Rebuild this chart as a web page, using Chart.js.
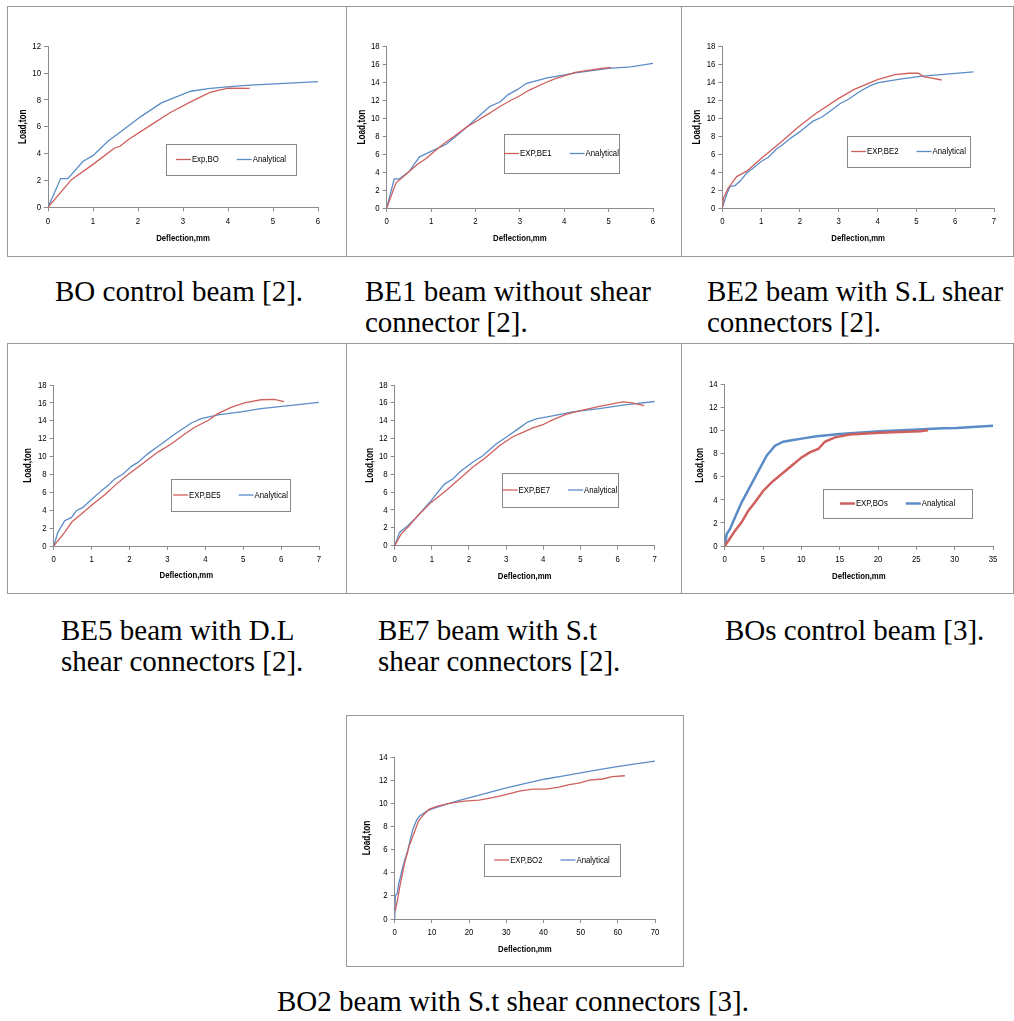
<!DOCTYPE html>
<html>
<head>
<meta charset="utf-8">
<script src="https://cdn.jsdelivr.net/npm/chart.js@4.4.0/dist/chart.umd.min.js"></script>
<style>
  body { margin: 0; background: #fff; width: 1014px; height: 1021px; position: relative; overflow: hidden; }
  .panel { position: absolute; border: 1px solid #999; box-sizing: border-box; }
  .panel canvas { position: absolute; left: 0; top: 0; }
  .cap { position: absolute; font-family: "Liberation Serif", "Times New Roman", serif; font-size: 29px; line-height: 31px; color: #000; white-space: nowrap; }
</style>
</head>
<body>

<div class="panel" id="p1" style="left:7px;top:6px;width:340px;height:251px"><canvas id="c1"></canvas></div>
<div class="panel" id="p2" style="left:346px;top:6px;width:336px;height:251px"><canvas id="c2"></canvas></div>
<div class="panel" id="p3" style="left:681px;top:6px;width:333px;height:251px"><canvas id="c3"></canvas></div>
<div class="panel" id="p4" style="left:7px;top:343px;width:340px;height:251px"><canvas id="c4"></canvas></div>
<div class="panel" id="p5" style="left:346px;top:343px;width:336px;height:251px"><canvas id="c5"></canvas></div>
<div class="panel" id="p6" style="left:681px;top:343px;width:333px;height:251px"><canvas id="c6"></canvas></div>
<div class="panel" id="p7" style="left:346px;top:715px;width:338px;height:252px"><canvas id="c7"></canvas></div>

<div class="cap" style="left:55px;top:276px">BO control beam [2].</div>
<div class="cap" style="left:365px;top:276px">BE1 beam without shear<br>connector [2].</div>
<div class="cap" style="left:707px;top:276px">BE2 beam with S.L shear<br>connectors [2].</div>
<div class="cap" style="left:61px;top:615px">BE5 beam with D.L<br>shear connectors [2].</div>
<div class="cap" style="left:378px;top:615px">BE7 beam with S.t<br>shear connectors [2].</div>
<div class="cap" style="left:725px;top:615px">BOs control beam [3].</div>
<div class="cap" style="left:277px;top:986px">BO2 beam with S.t shear connectors [3].</div>

<script>
// load (ton) vs deflection (mm) as [x, y]
var boExp = [[0,0],[0.52,2.06],[1.0,3.2],[1.48,4.42],[1.6,4.55],[1.78,5.04],[2.3,6.16],[2.7,7.03],[3.19,7.9],[3.6,8.57],[4.0,8.88],[4.48,8.87]];
var boAna = [[0,0],[0.19,1.44],[0.28,2.14],[0.44,2.14],[0.78,3.43],[1.0,3.85],[1.33,4.92],[1.6,5.6],[2.07,6.78],[2.52,7.78],[3.17,8.65],[3.56,8.85],[4.04,9.0],[4.5,9.1],[6,9.37]];

var be1Exp = [[0,0],[0.21,2.8],[0.47,3.9],[0.7,4.9],[0.89,5.5],[1.07,6.3],[1.3,7.2],[1.5,7.9],[1.8,9.0],[2.0,9.6],[2.3,10.5],[2.55,11.3],[2.8,12.0],[3.0,12.5],[3.2,13.1],[3.6,14.0],[3.8,14.4],[4.05,14.8],[4.25,15.1],[4.5,15.3],[4.8,15.5],[5.05,15.65]];
var be1Ana = [[0,0],[0.17,3.25],[0.29,3.25],[0.51,4.1],[0.74,5.7],[1.0,6.3],[1.34,7.1],[1.56,8.0],[1.8,9.0],[2.05,10.1],[2.32,11.3],[2.55,11.8],[2.73,12.6],[2.95,13.2],[3.14,13.85],[3.59,14.45],[4.04,14.85],[4.25,15.05],[5.0,15.55],[5.5,15.7],[6,16.1]];

var be2Exp = [[0,0],[0.03,1.1],[0.15,2.2],[0.37,3.5],[0.63,4.1],[1.0,5.5],[1.5,7.3],[1.95,9.0],[2.4,10.5],[3.0,12.2],[3.4,13.2],[4.0,14.3],[4.45,14.85],[4.8,15.0],[5.05,15.0],[5.2,14.6],[5.4,14.45],[5.65,14.25]];
var be2Ana = [[0,0],[0.11,1.5],[0.2,2.4],[0.33,2.5],[0.46,3.0],[0.63,3.9],[0.8,4.45],[1.01,5.2],[1.19,5.65],[1.4,6.6],[1.53,6.95],[1.74,7.7],[2.0,8.5],[2.17,9.1],[2.35,9.7],[2.56,10.1],[2.82,10.9],[3.03,11.6],[3.25,12.1],[3.55,13.0],[3.8,13.6],[4.02,13.95],[4.58,14.35],[5.09,14.65],[5.78,14.9],[6.47,15.15]];

var be5Exp = [[0,0],[0.29,1.53],[0.47,2.65],[0.73,3.58],[1.04,4.7],[1.34,5.7],[1.61,6.75],[1.87,7.68],[2.22,8.8],[2.48,9.65],[2.75,10.5],[3.1,11.4],[3.45,12.5],[3.71,13.25],[4.06,14.0],[4.33,14.8],[4.68,15.5],[5.03,16.0],[5.47,16.35],[5.82,16.4],[6.08,16.15]];
var be5Ana = [[0,0],[0.11,1.53],[0.29,2.83],[0.47,3.2],[0.6,3.95],[0.77,4.32],[1.04,5.37],[1.26,6.19],[1.43,6.75],[1.61,7.5],[1.83,8.05],[2.05,8.9],[2.22,9.35],[2.48,10.3],[2.84,11.4],[3.19,12.5],[3.63,13.75],[3.89,14.25],[4.33,14.65],[4.94,15.0],[5.47,15.35],[7,16.06]];

var be7Exp = [[0,0],[0.17,1.3],[0.39,2.24],[0.62,3.36],[0.98,4.85],[1.38,6.16],[1.74,7.47],[2.1,8.78],[2.46,9.9],[2.82,11.2],[3.18,12.2],[3.45,12.7],[3.72,13.2],[3.99,13.55],[4.25,14.1],[4.61,14.7],[4.97,15.1],[5.51,15.6],[6.14,16.1],[6.4,16.0],[6.72,15.7]];
var be7Ana = [[0,0],[0.13,1.49],[0.35,2.24],[0.57,3.1],[0.98,5.04],[1.34,6.9],[1.56,7.47],[1.79,8.4],[2.1,9.34],[2.37,10.08],[2.73,11.39],[3.0,12.14],[3.36,13.2],[3.58,13.85],[3.81,14.2],[4.25,14.55],[4.79,15.0],[5.51,15.35],[6.14,15.75],[7,16.15]];

var bosExp = [[0,0],[0.48,0.46],[1.35,1.33],[2.2,2.05],[3.08,3.07],[3.95,3.79],[5.04,4.8],[6.12,5.52],[7.43,6.25],[8.73,6.97],[10.03,7.69],[11.1,8.13],[12.2,8.42],[13.07,9.05],[14.37,9.43],[16.32,9.68],[20.23,9.82],[24.58,9.93],[25.5,9.95],[26.5,10.05]];
var bosAna = [[0,0],[0.26,1.04],[0.7,1.48],[1.35,2.49],[2.21,3.79],[3.73,5.67],[5.47,7.84],[6.56,8.71],[7.64,9.05],[8.94,9.2],[10.25,9.34],[11.98,9.52],[13.72,9.63],[15.02,9.72],[20.23,9.95],[24.58,10.1],[28.48,10.21],[30.2,10.24],[35,10.44]];

var bo2Exp = [[0.15,0.7],[0.8,1.73],[1.43,2.88],[2.6,4.75],[3.94,6.34],[5.28,7.49],[6.45,8.5],[7.97,9.08],[9.31,9.5],[11.55,9.75],[14.68,10.0],[18.7,10.18],[22.7,10.28],[26.3,10.48],[29.9,10.75],[33.5,11.05],[37.06,11.22],[40.6,11.22],[44.2,11.4],[46.9,11.62],[49.6,11.75],[52.3,12.0],[55.9,12.1],[58.5,12.3],[61.9,12.38]];
var bo2Ana = [[0,0],[0.18,2.02],[0.63,2.16],[1.07,3.02],[2.15,4.47],[3.49,5.9],[4.83,7.7],[5.9,8.56],[6.8,8.93],[8.86,9.36],[10.65,9.59],[13.8,9.9],[16.9,10.2],[20.95,10.55],[24.5,10.85],[29,11.25],[33.5,11.6],[37,11.85],[40.6,12.1],[45.1,12.35],[49.6,12.6],[55,12.9],[59.4,13.15],[64.8,13.4],[70,13.65]];

var RED = "#CF5F5C", BLUE = "#5B8CC8", AXIS = "#8c8c8c";
var FONT = "'Liberation Sans', Arial, sans-serif";
var SQUEEZE = 0.82; // the originals use a narrow face; squeeze Arial-metric text to match

Chart.defaults.font.family = FONT;
Chart.defaults.font.size = 9.5;
Chart.defaults.color = "#000";

// every canvas text call is drawn horizontally condensed
function condense(ctx, k) {
  var fill = ctx.fillText.bind(ctx);
  var measure = ctx.measureText.bind(ctx);
  ctx.fillText = function (t, x, y) {
    ctx.save();
    ctx.translate(x, y);
    ctx.scale(k, 1);
    fill(t, 0, 0);
    ctx.restore();
  };
  ctx.measureText = function (t) {
    var m = measure(t);
    return {
      width: m.width * k,
      actualBoundingBoxAscent: m.actualBoundingBoxAscent,
      actualBoundingBoxDescent: m.actualBoundingBoxDescent,
      actualBoundingBoxLeft: m.actualBoundingBoxLeft * k,
      actualBoundingBoxRight: m.actualBoundingBoxRight * k
    };
  };
}

// legend drawn as a boxed inset, like the Excel originals
var boxLegend = {
  id: "boxLegend",
  afterDatasetsDraw: function (chart, args, opts) {
    var r = opts.rect;
    if (!r) return;
    var ctx = chart.ctx;
    ctx.save();
    ctx.fillStyle = "#fff";
    ctx.fillRect(r.x, r.y, r.w, r.h);
    ctx.strokeStyle = "#888";
    ctx.lineWidth = 1;
    ctx.strokeRect(Math.round(r.x) + 0.5, Math.round(r.y) + 0.5, r.w, r.h);
    ctx.font = "9.5px " + FONT;
    var sets = chart.data.datasets;
    var total = 0;
    sets.forEach(function (ds, i) {
      total += 15 + 1 + ctx.measureText(ds.label).width + (i ? opts.gap : 0);
    });
    var x = r.x + (r.w - total) / 2;
    var y = r.y + r.h / 2;
    ctx.textBaseline = "middle";
    ctx.textAlign = "left";
    sets.forEach(function (ds, i) {
      if (i) x += opts.gap;
      ctx.strokeStyle = ds.borderColor;
      ctx.lineWidth = ds.borderWidth;
      ctx.beginPath();
      ctx.moveTo(x, y);
      ctx.lineTo(x + 15, y);
      ctx.stroke();
      x += 16;
      ctx.fillStyle = "#000";
      ctx.fillText(ds.label, x, y);
      x += ctx.measureText(ds.label).width;
    });
    ctx.restore();
  }
};

function pts(a) {
  return a.map(function (p) { return { x: p[0], y: p[1] }; });
}

// p: panel box, area: plot area (page px), leg: legend box (page px)
function makeChart(id, p, area, leg, xMax, xStep, yMax, expName, exp, ana, lw, titles) {
  var ox = p.x + 1, oy = p.y + 1;
  var w = p.w - 2, h = p.h - 2;
  var canvas = document.getElementById(id);
  canvas.width = w; canvas.height = h;
  canvas.style.width = w + "px"; canvas.style.height = h + "px";
  condense(canvas.getContext("2d"), SQUEEZE);
  var aL = area.l - ox, aR = area.r - ox, aT = area.t - oy, aB = area.b - oy;
  var lh = 9.5 * 1.2;
  return new Chart(canvas, {
    type: "line",
    data: {
      datasets: [
        { label: expName, data: pts(exp), borderColor: RED, borderWidth: lw, pointRadius: 0, tension: 0, fill: false },
        { label: "Analytical", data: pts(ana), borderColor: BLUE, borderWidth: lw, pointRadius: 0, tension: 0, fill: false }
      ]
    },
    options: {
      responsive: false,
      animation: false,
      layout: { padding: { left: 0, top: aT, right: w - aR, bottom: 0 } },
      plugins: {
        legend: { display: false },
        tooltip: { enabled: false },
        boxLegend: { rect: { x: leg.l - ox, y: leg.t - oy, w: leg.r - leg.l, h: leg.b - leg.t }, gap: 18 }
      },
      scales: {
        x: {
          type: "linear", min: 0, max: xMax,
          ticks: { stepSize: xStep, padding: 4, maxRotation: 0 },
          grid: { drawOnChartArea: false, drawTicks: true, tickLength: 4, color: AXIS },
          border: { color: AXIS },
          title: { display: true, text: "Deflection,mm", font: { weight: "bold", size: 9.5 },
                   padding: { top: 0, bottom: h - (titles.xy - oy) - lh / 2 } },
          afterFit: function (s) { s.height = h - aB; }
        },
        y: {
          min: 0, max: yMax,
          ticks: { stepSize: 2, padding: 3 },
          grid: { drawOnChartArea: false, drawTicks: true, tickLength: 4, color: AXIS },
          border: { color: AXIS },
          title: { display: true, text: "Load,ton", font: { weight: "bold", size: 10 },
                   padding: { top: titles.yx - ox - lh / 2, bottom: 0 } },
          afterFit: function (s) { s.width = aL; }
        }
      }
    },
    plugins: [boxLegend]
  });
}

makeChart("c1", { x: 7, y: 6, w: 340, h: 251 }, { l: 48, r: 318, t: 46.3, b: 207.3 },
  { l: 166, r: 296, t: 144, b: 175 }, 6, 1, 12, "Exp,BO", boExp, boAna, 1.3, { xy: 238, yx: 23 });
makeChart("c2", { x: 346, y: 6, w: 336, h: 251 }, { l: 386.7, r: 653, t: 46.3, b: 208 },
  { l: 504, r: 619, t: 134, b: 173 }, 6, 1, 18, "EXP,BE1", be1Exp, be1Ana, 1.3, { xy: 238, yx: 361.7 });
makeChart("c3", { x: 681, y: 6, w: 333, h: 251 }, { l: 722.3, r: 994, t: 46.3, b: 208 },
  { l: 847, r: 970, t: 136, b: 167 }, 7, 1, 18, "EXP,BE2", be2Exp, be2Ana, 1.3, { xy: 238, yx: 696.7 });
makeChart("c4", { x: 7, y: 343, w: 340, h: 251 }, { l: 53.7, r: 319, t: 385, b: 546 },
  { l: 171, r: 290, t: 479, b: 511 }, 7, 1, 18, "EXP,BE5", be5Exp, be5Ana, 1.3, { xy: 575.7, yx: 28 });
makeChart("c5", { x: 346, y: 343, w: 336, h: 251 }, { l: 394.7, r: 654.7, t: 385, b: 545.7 },
  { l: 502, r: 618, t: 473, b: 507 }, 7, 1, 18, "EXP,BE7", be7Exp, be7Ana, 1.3, { xy: 576.3, yx: 370 });
makeChart("c6", { x: 681, y: 343, w: 333, h: 251 }, { l: 724.7, r: 993, t: 384.7, b: 546 },
  { l: 823, r: 972, t: 489, b: 518 }, 35, 5, 14, "EXP,BOs", bosExp, bosAna, 2.5, { xy: 576.3, yx: 700 });
makeChart("c7", { x: 346, y: 715, w: 338, h: 252 }, { l: 394.7, r: 655, t: 757, b: 919 },
  { l: 484, r: 620, t: 844, b: 876 }, 70, 10, 14, "EXP,BO2", bo2Exp, bo2Ana, 1.3, { xy: 949, yx: 366.7 });
</script>
</body>
</html>
